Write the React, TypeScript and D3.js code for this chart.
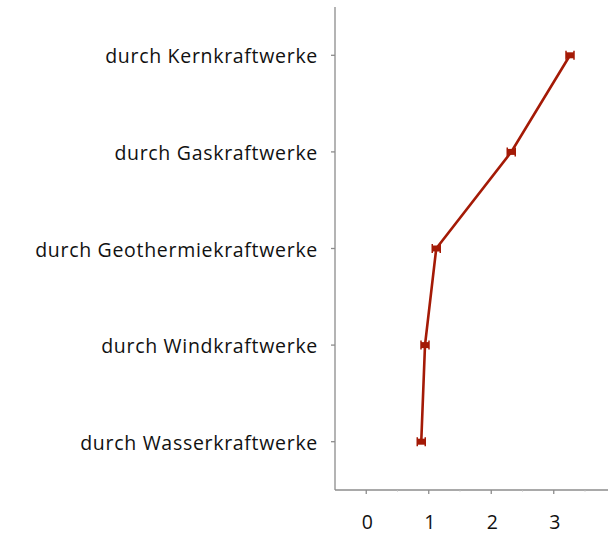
import React from "react";
import * as d3 from "d3";

const categories = [
  "durch Kernkraftwerke",
  "durch Gaskraftwerke",
  "durch Geothermiekraftwerke",
  "durch Windkraftwerke",
  "durch Wasserkraftwerke",
];
const values = [3.26, 2.32, 1.12, 0.94, 0.88];
const xTicks = [0, 1, 2, 3];
const xMinorTicks = [0.5, 1.5, 2.5, 3.5];

export default function App() {
  const W = 608, H = 535;
  const left = 335, top = 7, bottom = 490, right = 608;
  const x = d3.scaleLinear().domain([-0.5, 3.868]).range([left, right]);
  const y = d3.scaleBand().domain(categories).range([top, bottom]);
  const cy = (c: string) => (y(c) ?? 0) + y.bandwidth() / 2;
  const line = d3
    .line<number>()
    .x((d) => x(d))
    .y((_, i) => cy(categories[i]));
  const red = "#a41a06";
  const axisColor = "#8c8c8c";
  const font = "'Open Sans', 'Noto Sans', sans-serif";
  return (
    <svg width={W} height={H} style={{ position: "absolute", left: 0, top: 0 }}>
      <rect width={W} height={H} fill="#fff" />
      {/* y axis */}
      <line x1={left} x2={left} y1={top} y2={bottom} stroke={axisColor} strokeWidth={1.3} />
      {categories.map((c) => (
        <g key={c}>
          <line x1={left - 4} x2={left} y1={cy(c)} y2={cy(c)} stroke={axisColor} strokeWidth={1.3} />
          <text
            x={318}
            y={cy(c) + 8}
            textAnchor="end"
            fontFamily={font}
            fontSize={19.5}
            letterSpacing={0.7}
            fill="#111"
          >
            {c}
          </text>
        </g>
      ))}
      {/* x axis */}
      <line x1={left} x2={right} y1={bottom} y2={bottom} stroke={axisColor} strokeWidth={1.3} />
      {xTicks.map((t) => (
        <g key={t}>
          <line x1={x(t)} x2={x(t)} y1={bottom} y2={bottom + 4} stroke={axisColor} strokeWidth={1.3} />
          <text
            x={x(t) + 1}
            y={529}
            textAnchor="middle"
            fontFamily={font}
            fontSize={19.5}
            fill="#111"
          >
            {t}
          </text>
        </g>
      ))}
      {xMinorTicks.map((t) => (
        <line key={t} x1={x(t)} x2={x(t)} y1={bottom} y2={bottom + 1.5} stroke="#bbb" strokeWidth={1} />
      ))}
      {/* line */}
      <path d={line(values) ?? ""} fill="none" stroke={red} strokeWidth={2.6} />
      {values.map((v, i) => {
        const px = x(v), py = cy(categories[i]);
        return (
          <g key={i}>
            <rect x={px - 4} y={py - 3} width={8} height={6} fill={red} />
            <line x1={px - 4} x2={px - 4} y1={py - 4.5} y2={py + 4.5} stroke={red} strokeWidth={1.5} />
            <line x1={px + 4} x2={px + 4} y1={py - 4.5} y2={py + 4.5} stroke={red} strokeWidth={1.5} />
          </g>
        );
      })}
    </svg>
  );
}
